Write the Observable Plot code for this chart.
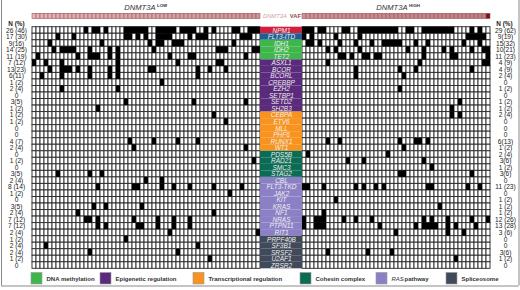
<!DOCTYPE html>
<html><head><meta charset="utf-8">
<script src="https://cdn.jsdelivr.net/npm/d3@7"></script>
<script src="https://cdn.jsdelivr.net/npm/@observablehq/plot@0.6"></script>
<style>
html,body{margin:0;padding:0;background:#fff;}
#chart svg{display:block;font-family:"Liberation Sans",Arial,sans-serif;}
</style></head><body><div id="chart"></div>
<script>
const genes = ["NPM1","FLT3-ITD","IDH1","IDH2","TET2","ASXL1","BCOR","BCORL","CREBBP","EZH2","SETBP1","SETD2","SH2B3","CEBPA","ETV6","MLL","PHF6","RUNX1","WT1","PDS5B","RAD21","SMC3","STAG2","CBL","FLT3-TKD","JAK2","KIT","KRAS","NF1","NRAS","PTPN11","RIT1","PRPF40B","SF3B1","SRSF2","U2AF1","ZRSR2"];
const geneGroup = ["npm1","flt3","dna","dna","dna","epi","epi","epi","epi","epi","epi","epi","epi","tx","tx","tx","tx","tx","tx","coh","coh","coh","coh","ras","ras","ras","ras","ras","ras","ras","ras","ras","spl","spl","spl","spl","spl"];
const nLow = ["26 (46)","17 (30)","9(16)","14 (25)","11 (19)","7 (12)","13(23)","6(11)","1 (2)","2 (4)","0","3(5)","1 (2)","1 (2)","1 (2)","0","0","4 (7)","2 (4)","0","1 (2)","0","3(5)","2 (4)","8 (14)","1 (2)","0","3(5)","2 (4)","7 (12)","7 (12)","2 (4)","1 (2)","2 (4)","2 (4)","1 (2)","0"];
const nHigh = ["29 (62)","9(19)","15(32)","10(21)","11 (23)","4 (9)","4 (9)","2 (4)","0","1 (2)","0","1 (2)","1 (2)","2 (4)","0","0","0","6(13)","1 (2)","2 (4)","3(6)","1 (2)","3(6)","0","11 (23)","0","1 (2)","1 (2)","1 (2)","12 (26)","13 (28)","3 (6)","0","0","3(6)","1 (2)","0"];
const mutLow = [
[13,15,16,18,23,24,25,26,27,28,31,32,33,34,35,37,38,39,40,43,45,50,51,54,55,56],
[6,10,23,24,26,28,31,32,33,34,39,41,42,43,52,53,54],
[4,17,29,31,32,35,36,37,50],
[5,7,8,9,10,14,19,21,30,46,47,48,55,56],
[1,11,14,15,16,19,21,34,39,40,53],
[0,3,7,21,36,46,47],
[4,7,8,9,11,14,19,21,29,30,41,44,48],
[2,7,14,19,21,41],
[32],[7,21],[],[23,40,53],[16],[45],[48],[],[],
[24,30,36,41],[25,53],[],[55],[],[6,14,17],[28,32],
[16,25,26,32,35,39,45,52],
[49],[],[15,18,27],[11,45],
[13,14,16,25,31,35,39],
[16,18,26,27,31,35,39],
[34,56],[23],[3,41],[14,36],[44],[]
];
const mutHigh = [
[0,1,2,4,5,10,11,14,15,16,17,18,19,20,21,22,23,26,27,30,31,32,33,34,35,36,37,42,44],
[0,2,8,14,41,42,43,44,45],
[1,2,4,9,13,17,20,21,22,23,24,28,31,40,44],
[6,8,14,26,30,35,37,42,45,46],
[9,10,12,15,16,18,19,30,37,38,46],
[6,29,45,46],
[13,24,28,42],
[13,25],[],[24],[],[39],[37],[37,39],[],[],[],
[6,9,24,28,29,31],[25],[1,21],[11,15,30],[32],[24,25,42],[],
[0,1,5,13,15,18,20,31,32,41,44],
[],[8],[34],[5],
[0,3,4,5,10,13,17,30,32,36,42,46],
[0,3,4,5,19,28,30,31,32,33,36,38,43],
[23,36,40],[],[],[6,16,22],[38],[]
];
const vafLow = [0.12,0.13,0.13,0.14,0.14,0.15,0.15,0.16,0.16,0.17,0.17,0.17,0.18,0.18,0.18,0.19,0.19,0.19,0.2,0.2,0.2,0.21,0.21,0.21,0.22,0.22,0.22,0.23,0.23,0.23,0.24,0.24,0.24,0.25,0.25,0.25,0.26,0.26,0.26,0.27,0.27,0.27,0.28,0.28,0.28,0.29,0.29,0.29,0.3,0.3,0.3,0.31,0.31,0.32,0.32,0.33,0.33];
const vafHigh = [0.34,0.34,0.35,0.35,0.35,0.36,0.36,0.36,0.37,0.37,0.37,0.38,0.38,0.38,0.38,0.39,0.39,0.39,0.4,0.4,0.4,0.4,0.41,0.41,0.41,0.42,0.42,0.42,0.42,0.43,0.43,0.43,0.43,0.44,0.44,0.44,0.44,0.45,0.45,0.45,0.46,0.46,0.46,0.47,0.47,0.48,0.62];
const groupColors = {npm1:"#d21e3d", flt3:"#1f5d92", dna:"#3fb64b", epi:"#5a2a7c", tx:"#f7931e", coh:"#0c6b55", ras:"#8b80c5", spl:"#404a5a"};
const legendLabels = ["DNA methylation","Epigenetic regulation","Transcriptional regulation","Cohesin complex","RAS pathway","Spliceosome"];
const legendGroups = ["dna","epi","tx","coh","ras","spl"];
const legendPx = [31,100,193,300,376,446];

// layout helpers (pixel -> scale units)
const ux = px => px/4 - 8;
const uy = px => (px - 26.7)/6.53;
const RIGHT0 = 67.5;

const cells = [];
genes.forEach((g, r) => {
  for (let c = 0; c < vafLow.length; c++) cells.push({x1: c, x2: c+1, y1: r, y2: r+1, mut: mutLow[r].includes(c)});
  for (let c = 0; c < vafHigh.length; c++) cells.push({x1: RIGHT0+c, x2: RIGHT0+c+1, y1: r, y2: r+1, mut: mutHigh[r].includes(c)});
});
const vafCells = vafLow.map((v,c)=>({x1:c,x2:c+1,v})).concat(vafHigh.map((v,c)=>({x1:RIGHT0+c,x2:RIGHT0+c+1,v})));
const rows = genes.map((g,r)=>({g, r, grp: geneGroup[r], nl: nLow[r], nh: nHigh[r]}));

const marks = [];
marks.push(Plot.rect(cells, {x1:"x1", x2:"x2", y1:"y1", y2:"y2", fill:"white", stroke:"#2e2e2e", strokeWidth:0.95}));
marks.push(Plot.rect(cells.filter(d=>d.mut), {x1:"x1", x2:"x2", y1:"y1", y2:"y2", fill:"black"}));
// VAF bar
marks.push(Plot.rect(vafCells, {x1:"x1", x2:"x2", y1:()=>uy(13.3), y2:()=>uy(18.6), fill:"v", stroke:"#9c5a5e", strokeWidth:0.6}));
// gene label boxes
for (const k of Object.keys(groupColors)) {
  marks.push(Plot.rect(rows.filter(d=>d.grp===k), {x1:()=>57, x2:()=>RIGHT0, y1:d=>d.r, y2:d=>d.r+1, fill:groupColors[k]}));
}
marks.push(Plot.text(rows, {x:()=>62.25, y:d=>d.r+0.5, text:"g", fill:"#f0f0f0", fontStyle:"italic", fontSize:6.5}));
// N (%)
marks.push(Plot.text(rows, {x:()=>ux(16), y:d=>d.r+0.5, text:"nl", fill:"#222", fontSize:6.6}));
marks.push(Plot.text(rows, {x:()=>ux(505), y:d=>d.r+0.5, text:"nh", fill:"#222", fontSize:6.6}));
marks.push(Plot.text(["N (%)"], {x:()=>ux(16), y:()=>uy(23.5), text:d=>d, fill:"#222", fontSize:6.4, fontWeight:"bold"}));
marks.push(Plot.text(["N (%)"], {x:()=>ux(504), y:()=>uy(23.5), text:d=>d, fill:"#222", fontSize:6.4, fontWeight:"bold"}));
// titles
marks.push(Plot.text(["DNMT3A"], {x:()=>ux(155), y:()=>uy(7.5), text:d=>d, textAnchor:"end", fill:"#333", fontStyle:"italic", fontSize:7.6}));
marks.push(Plot.text(["LOW"], {x:()=>ux(156.5), y:()=>uy(4.8), text:d=>d, textAnchor:"start", fill:"#333", fontSize:4.4, fontWeight:"bold"}));
marks.push(Plot.text(["DNMT3A"], {x:()=>ux(407), y:()=>uy(7.5), text:d=>d, textAnchor:"end", fill:"#333", fontStyle:"italic", fontSize:7.6}));
marks.push(Plot.text(["HIGH"], {x:()=>ux(408.5), y:()=>uy(4.8), text:d=>d, textAnchor:"start", fill:"#333", fontSize:4.4, fontWeight:"bold"}));
// VAF label
marks.push(Plot.text(["DNMT3A"], {x:()=>ux(262.5), y:()=>uy(16), text:d=>d, textAnchor:"start", fill:"#c9a3a6", fontStyle:"italic", fontSize:5.8}));
marks.push(Plot.text(["VAF"], {x:()=>ux(300.5), y:()=>uy(16), text:d=>d, textAnchor:"end", fill:"#8e4a4e", fontWeight:"bold", fontSize:5.8}));
// legend
legendLabels.forEach((lab,i)=>{
  const bx = legendPx[i];
  marks.push(Plot.rect([lab], {x1:()=>ux(bx), x2:()=>ux(bx+11), y1:()=>uy(272.5), y2:()=>uy(284), fill:groupColors[legendGroups[i]], stroke:"#999", strokeWidth:0.6}));
  if (lab === "RAS pathway") {
    marks.push(Plot.text(["RAS"], {x:()=>ux(bx+15), y:()=>uy(278.3), text:d=>d, textAnchor:"start", fill:"#333", fontStyle:"italic", fontSize:6}));
    marks.push(Plot.text(["pathway"], {x:()=>ux(bx+28), y:()=>uy(278.3), text:d=>d, textAnchor:"start", fill:"#333", fontWeight:"bold", fontSize:6}));
  } else {
    marks.push(Plot.text([lab], {x:()=>ux(bx+15), y:()=>uy(278.3), text:d=>d, textAnchor:"start", fill:"#333", fontWeight:"bold", fontSize:6}));
  }
});
// border
marks.push(Plot.ruleX([ux(1)], {y1:()=>uy(0), y2:()=>uy(285.5), stroke:"#8a8a8a", strokeWidth:1}));
marks.push(Plot.ruleX([ux(518.5)], {y1:()=>uy(0), y2:()=>uy(285.5), stroke:"#8a8a8a", strokeWidth:1}));
marks.push(Plot.ruleY([uy(285.5)], {x1:()=>ux(1), x2:()=>ux(518.5), stroke:"#8a8a8a", strokeWidth:1}));

const chart = Plot.plot({
  width: 520, height: 290,
  marginTop: 0, marginBottom: 0, marginLeft: 0, marginRight: 0,
  x: {type:"linear", domain:[ux(0), ux(520)], range:[0,520], axis:null},
  y: {type:"linear", domain:[uy(0), uy(290)], range:[0,290], axis:null},
  color: {type:"linear", domain:[0.1,0.48,0.62], range:["#e9b9bb","#c07c80","#7a1014"]},
  style: {fontFamily:"'Liberation Sans', Arial, sans-serif", background:"white"},
  marks
});
document.getElementById("chart").appendChild(chart);
</script></body></html>
